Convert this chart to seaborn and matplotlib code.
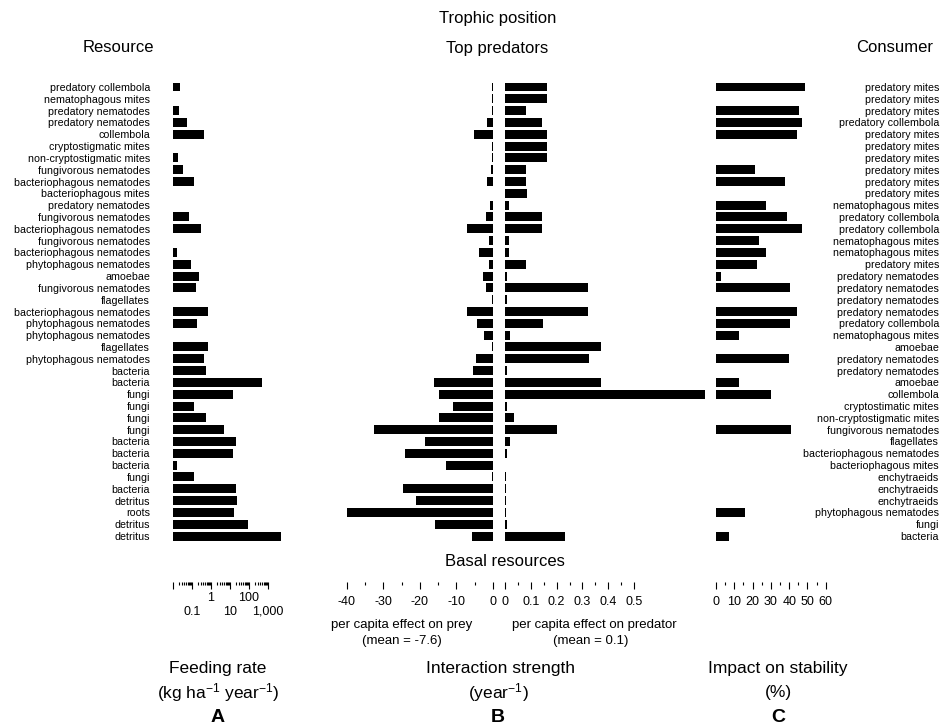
import numpy as np
import pandas as pd
import matplotlib
matplotlib.use("Agg")
import matplotlib.pyplot as plt
import seaborn as sns

# row labels (top to bottom)
resource_labels = [
    "predatory collembola", "nematophagous mites", "predatory nematodes", "predatory nematodes",
    "collembola", "cryptostigmatic mites", "non-cryptostigmatic mites", "fungivorous nematodes",
    "bacteriophagous nematodes", "bacteriophagous mites", "predatory nematodes", "fungivorous nematodes",
    "bacteriophagous nematodes", "fungivorous nematodes", "bacteriophagous nematodes",
    "phytophagous nematodes", "amoebae", "fungivorous nematodes", "flagellates",
    "bacteriophagous nematodes", "phytophagous nematodes", "phytophagous nematodes", "flagellates",
    "phytophagous nematodes", "bacteria", "bacteria", "fungi", "fungi", "fungi", "fungi",
    "bacteria", "bacteria", "bacteria", "fungi", "bacteria", "detritus", "roots", "detritus", "detritus",
]
consumer_labels = [
    "predatory mites", "predatory mites", "predatory mites", "predatory collembola",
    "predatory mites", "predatory mites", "predatory mites", "predatory mites", "predatory mites",
    "predatory mites", "nematophagous mites", "predatory collembola", "predatory collembola",
    "nematophagous mites", "nematophagous mites", "predatory mites", "predatory nematodes",
    "predatory nematodes", "predatory nematodes", "predatory nematodes", "predatory collembola",
    "nematophagous mites", "amoebae", "predatory nematodes", "predatory nematodes", "amoebae",
    "collembola", "cryptostimatic mites", "non-cryptostigmatic mites", "fungivorous nematodes",
    "flagellates", "bacteriophagous nematodes", "bacteriophagous mites", "enchytraeids",
    "enchytraeids", "enchytraeids", "phytophagous nematodes", "fungi", "bacteria",
]

nan = np.nan
# A: feeding rate (kg ha-1 year-1), log scale
feeding_rate = [0.023, nan, 0.021, 0.052, 0.45, nan, 0.019, 0.032, 0.13, nan,
                nan, 0.072, 0.31, nan, 0.016, 0.087, 0.23, 0.17, nan, 0.72,
                0.19, nan, 0.72, 0.45, 0.56, 470, 14, 0.12, 0.56, 4.8,
                20, 14, 0.016, 0.13, 21, 23, 16, 90, 4800]
# B: per capita effect on prey (year-1)
effect_on_prey = [-0.4, -0.3, -0.4, -1.7, -5.2, -0.3, -0.4, -0.5, -1.7, nan,
                  -0.8, -1.9, -7.0, -1.0, -3.9, -1.2, -2.8, -2.0, -0.2, -7.2,
                  -4.5, -2.4, -0.3, -4.7, -5.6, -16.2, -14.7, -10.9, -14.7, -32.5,
                  -18.5, -24.1, -12.9, -0.4, -24.6, -21.0, -39.9, -15.8, -5.8]
# B: per capita effect on predator (year-1)
effect_on_predator = [0.164, 0.164, 0.080, 0.142, 0.164, 0.164, 0.164, 0.081, 0.081, 0.084,
                      0.016, 0.145, 0.145, 0.017, 0.017, 0.083, 0.006, 0.323, 0.006, 0.323,
                      0.146, 0.019, 0.372, 0.326, 0.006, 0.372, 0.775, 0.009, 0.035, 0.203,
                      0.021, 0.006, nan, 0.005, 0.005, 0.005, 0.005, 0.006, 0.234]
# C: impact on stability (%)
impact_on_stability = [48.8, nan, 45.2, 46.8, 44.3, nan, nan, 21.3, 37.5, nan,
                       27.5, 38.6, 47.2, 23.3, 27.5, 22.4, 2.9, 40.3, nan, 44.1,
                       40.4, 12.4, nan, 39.7, nan, 12.4, 30.2, nan, nan, 41.2,
                       nan, nan, nan, nan, nan, nan, 15.7, nan, 7.3]

rows = list(range(len(resource_labels)))
df = pd.DataFrame({
    "row": rows,
    "feeding_rate": feeding_rate,
    "prey": effect_on_prey,
    "predator": effect_on_predator,
    "stability": impact_on_stability,
})

sns.set_style("ticks")
plt.rcParams["font.family"] = ["Liberation Sans", "DejaVu Sans"]
plt.rcParams["mathtext.default"] = "regular"
plt.rcParams["text.color"] = "black"
plt.rcParams["xtick.color"] = "black"
plt.rcParams["ytick.color"] = "black"
plt.rcParams["axes.labelcolor"] = "black"

W, H = 942, 725
fig = plt.figure(figsize=(W / 100, H / 100), dpi=100)


def px_axes(x0, x1, y_top=80, y_bot=582):
    return fig.add_axes([x0 / W, 1 - y_bot / H, (x1 - x0) / W, (y_bot - y_top) / H])


def bars(ax, col):
    sns.barplot(data=df, x=col, y="row", orient="h", order=rows, color="black",
                width=0.76, errorbar=None, linewidth=0, ax=ax)
    ax.set_ylim(41.89, -0.592)
    ax.set_xlabel("")
    ax.set_ylabel("")
    for s in ax.spines.values():
        s.set_visible(False)
    ax.tick_params(axis="y", left=False, right=False, labelleft=False, labelright=False)
    ax.tick_params(axis="x", which="major", length=5, width=0.8, labelsize=9, pad=5)
    ax.tick_params(axis="x", which="minor", length=2.5, width=0.8)


# A: feeding rate
axA = px_axes(173, 287)
bars(axA, "feeding_rate")
axA.set_xscale("log")
axA.set_xlim(0.01, 1e4)
axA.set_xticks([0.01, 0.1, 1, 10, 100, 1000], labels=["", "", "1", "", "100", ""])
axA.set_xticks([k * 10.0 ** e for e in range(-2, 3) for k in range(2, 10)], minor=True)
axA.xaxis.set_minor_formatter(matplotlib.ticker.NullFormatter())
axA.tick_params(axis="x", pad=2)
axA.set_yticks(rows)
axA.set_yticklabels(resource_labels)
axA.tick_params(axis="y", length=0, pad=16.5, labelleft=True, labelsize=7.7)

# second (staggered) row of feeding-rate tick labels
axA2 = axA.twiny()
axA2.set_xscale("log")
axA2.set_xlim(axA.get_xlim())
axA2.xaxis.set_ticks_position("bottom")
axA2.xaxis.set_label_position("bottom")
axA2.set_xticks([0.1, 10, 1000], labels=["0.1", "10", "1,000"])
axA2.xaxis.set_minor_locator(matplotlib.ticker.NullLocator())
axA2.tick_params(axis="x", length=0, pad=17, labelsize=9)
for s in axA2.spines.values():
    s.set_visible(False)

# B: interaction strengths
axB1 = px_axes(333, 493)
bars(axB1, "prey")
axB1.set_xlim(-43.8, 0)
axB1.set_xticks([-40, -30, -20, -10, 0], labels=["-40", "-30", "-20", "-10", "0"])
axB1.set_xticks([-35, -25, -15, -5], minor=True)

axB2 = px_axes(505, 710)
bars(axB2, "predator")
axB2.set_xlim(0, 205 / 258)
axB2.set_xticks([0, 0.1, 0.2, 0.3, 0.4, 0.5], labels=["0", "0.1", "0.2", "0.3", "0.4", "0.5"])
axB2.set_xticks([0.05, 0.15, 0.25, 0.35, 0.45], minor=True)

# C: impact on stability
axC = px_axes(716, 830)
bars(axC, "stability")
axC.set_xlim(0, 62.3)
axC.set_xticks([0, 10, 20, 30, 40, 50, 60], labels=["0", "10", "20", "30", "40", "50", "60"])
axC.set_xticks([5, 15, 25, 35, 45, 55], minor=True)
axC.yaxis.tick_right()
axC.set_yticks(rows)
axC.set_yticklabels(consumer_labels)
axC.tick_params(axis="y", length=0, pad=78.5, labelright=True, labelleft=False, labelsize=7.7)
for t in axC.yaxis.get_major_ticks():
    t.label2.set_horizontalalignment("right")


def ftext(x, y, s, **kw):
    fig.text(x / W, 1 - y / H, s, ha="center", va="center", **kw)


ftext(498, 18, "Trophic position", fontsize=12)
ftext(118, 48, "Resource", fontsize=12)
ftext(497, 48, "Top predators", fontsize=12)
ftext(895, 48, "Consumer", fontsize=12)
ftext(505, 562, "Basal resources", fontsize=12)

ftext(402, 625, "per capita effect on prey", fontsize=9.5)
ftext(402, 641, "(mean = -7.6)", fontsize=9.5)
ftext(594, 625, "per capita effect on predator", fontsize=9.5)
ftext(591, 641, "(mean = 0.1)", fontsize=9.5)

ftext(218, 668, "Feeding rate", fontsize=12.5)
ftext(218, 693, "(kg ha$^{-1}$ year$^{-1}$)", fontsize=12.5)
ftext(218, 718, "A", fontsize=14, fontweight="bold")
ftext(500, 668, "Interaction strength", fontsize=12.5)
ftext(498, 693, "(year$^{-1}$)", fontsize=12.5)
ftext(498, 718, "B", fontsize=14, fontweight="bold")
ftext(778, 668, "Impact on stability", fontsize=12.5)
ftext(778, 693, "(%)", fontsize=12.5)
ftext(778, 718, "C", fontsize=14, fontweight="bold")

fig.savefig("out.png", dpi=100, facecolor="white")
